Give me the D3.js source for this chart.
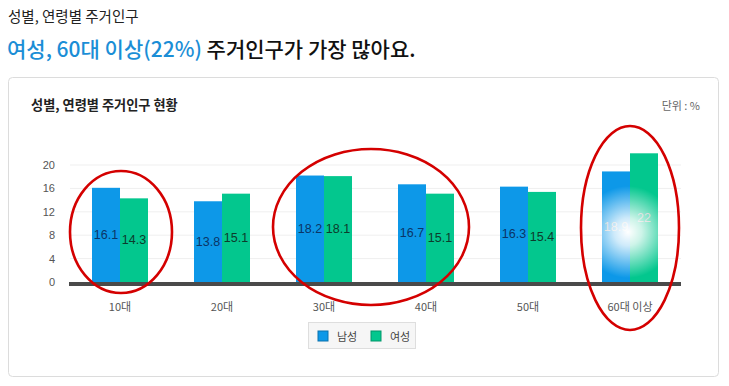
<!DOCTYPE html>
<html>
<head>
<meta charset="utf-8">
<script src="https://cdn.jsdelivr.net/npm/d3@7"></script>
<style>
  body { margin: 0; background: #fff; }
  svg { display: block; }
  text { font-family: "Noto Sans CJK KR", "Noto Sans", sans-serif; }
  .num { font-family: "Liberation Sans", Arial, sans-serif; }
</style>
</head>
<body>
<svg id="chart" width="729" height="386"></svg>
<script>
// data
const ages = ["10대", "20대", "30대", "40대", "50대", "60대 이상"];
const series = ["남성", "여성"];
const male = [16.1, 13.8, 18.2, 16.7, 16.3, 18.9];
const female = [14.3, 15.1, 18.1, 15.1, 15.4, 22];
const yTicks = [0, 4, 8, 12, 16, 20];
const colors = ["#0d98e8", "#03c78e"];
const labelColors = ["#0b3566", "#0d3b2c"];

const svg = d3.select("#chart");

// page header
svg.append("text")
    .attr("x", 8).attr("y", 22)
    .attr("font-size", 14.5).attr("fill", "#222")
    .text("성별, 연령별 주거인구");

const head = svg.append("text")
    .attr("x", 7).attr("y", 57)
    .attr("font-size", 21).attr("font-weight", 500);
head.append("tspan").attr("fill", "#1b8ed6").text("여성, 60대 이상(22%)");
head.append("tspan").attr("fill", "#111").text(" 주거인구가 가장 많아요.");

// card
svg.append("rect")
    .attr("x", 8.5).attr("y", 77.5)
    .attr("width", 710).attr("height", 299)
    .attr("rx", 4)
    .attr("fill", "#fff").attr("stroke", "#dcdcdc");

svg.append("text")
    .attr("x", 31).attr("y", 110)
    .attr("font-size", 13.2).attr("font-weight", 700).attr("fill", "#222")
    .text("성별, 연령별 주거인구 현황");

svg.append("text")
    .attr("x", 700).attr("y", 110)
    .attr("text-anchor", "end")
    .attr("font-size", 11).attr("fill", "#666")
    .text("단위 : %");

// scales
const x = d3.scaleBand().domain(ages).range([69, 681]);
const xs = d3.scaleBand().domain(series).range([-28, 28]);
const y = d3.scaleLinear().domain([0, 20]).range([282, 165]);

// grid
svg.append("g").selectAll("line")
    .data(yTicks.slice(1))
    .join("line")
    .attr("x1", 70).attr("x2", 681)
    .attr("y1", d => y(d)).attr("y2", d => y(d))
    .attr("stroke", "#efefef");

svg.append("g").selectAll("text")
    .data(yTicks)
    .join("text")
    .attr("class", "num")
    .attr("x", 55).attr("y", d => y(d) + 4)
    .attr("text-anchor", "end")
    .attr("font-size", 11).attr("fill", "#555")
    .text(d => d);

// 60대 glow
const defs = svg.append("defs");
const glow = defs.append("radialGradient")
    .attr("id", "glow")
    .attr("gradientUnits", "userSpaceOnUse")
    .attr("cx", 628).attr("cy", 232).attr("r", 46);
glow.append("stop").attr("offset", "0").attr("stop-color", "#fff").attr("stop-opacity", 1);
glow.append("stop").attr("offset", "0.3").attr("stop-color", "#fff").attr("stop-opacity", 0.8);
glow.append("stop").attr("offset", "1").attr("stop-color", "#fff").attr("stop-opacity", 0);

const rows = ages.map((a, i) => ({ age: a, vals: [male[i], female[i]] }));

const groups = svg.append("g").selectAll("g")
    .data(rows)
    .join("g")
    .attr("transform", d => `translate(${x(d.age) + x.bandwidth() / 2},0)`);

groups.selectAll("rect.bar")
    .data(d => d.vals.map((v, j) => ({ v, s: series[j], j })))
    .join("rect")
    .attr("class", "bar")
    .attr("x", d => xs(d.s))
    .attr("y", d => y(d.v))
    .attr("width", xs.bandwidth())
    .attr("height", d => y(0) - y(d.v))
    .attr("fill", d => colors[d.j]);

// glow over the last group
const last = rows[rows.length - 1];
svg.append("g").selectAll("rect")
    .data(last.vals.map((v, j) => ({ v, s: series[j] })))
    .join("rect")
    .attr("x", d => x(last.age) + x.bandwidth() / 2 + xs(d.s))
    .attr("y", d => y(d.v))
    .attr("width", xs.bandwidth())
    .attr("height", d => y(0) - y(d.v))
    .attr("fill", "url(#glow)");

groups.selectAll("text.val")
    .data((d, i) => d.vals.map((v, j) => ({ v, s: series[j], j, last: i === rows.length - 1 })))
    .join("text")
    .attr("class", "num val")
    .attr("x", d => xs(d.s) + xs.bandwidth() / 2)
    .attr("y", d => (y(d.v) + y(0)) / 2 + 4)
    .attr("text-anchor", "middle")
    .attr("font-size", 12.5)
    .attr("fill", d => d.last ? "#bdbdbd" : labelColors[d.j])
    .text(d => d.v);

// baseline
svg.append("rect")
    .attr("x", 69).attr("y", y(0))
    .attr("width", 612).attr("height", 4)
    .attr("fill", "#4a4a4a");

// x labels
svg.append("g").selectAll("text")
    .data(ages)
    .join("text")
    .attr("x", d => x(d) + x.bandwidth() / 2)
    .attr("y", 311)
    .attr("text-anchor", "middle")
    .attr("font-size", 11).attr("fill", "#555")
    .text(d => d);

// legend
const lg = svg.append("g");
lg.append("rect")
    .attr("x", 308.5).attr("y", 322.5)
    .attr("width", 107).attr("height", 26)
    .attr("fill", "#f6f6f6").attr("stroke", "#dedede");
const items = lg.selectAll("g")
    .data(series)
    .join("g")
    .attr("transform", (d, i) => `translate(${318 + i * 53},331)`);
items.append("rect")
    .attr("width", 10).attr("height", 10)
    .attr("fill", (d, i) => colors[i])
    .attr("stroke", (d, i) => d3.color(colors[i]).darker(0.8));
items.append("text")
    .attr("x", 19).attr("y", 9.5)
    .attr("font-size", 11).attr("fill", "#444")
    .text(d => d);

// red annotation circles
const marks = [
    { age: "10대", dx: 1, cy: 232, rx: 51, ry: 61 },
    { age: "30대", dx: 47, cy: 227, rx: 98, ry: 78 },
    { age: "60대 이상", dx: 0, cy: 228, rx: 49, ry: 102 }
];
svg.append("g").selectAll("ellipse")
    .data(marks)
    .join("ellipse")
    .attr("cx", d => x(d.age) + x.bandwidth() / 2 + d.dx)
    .attr("cy", d => d.cy)
    .attr("rx", d => d.rx).attr("ry", d => d.ry)
    .attr("fill", "none")
    .attr("stroke", "#d40000").attr("stroke-width", 2.6);
</script>
</body>
</html>
